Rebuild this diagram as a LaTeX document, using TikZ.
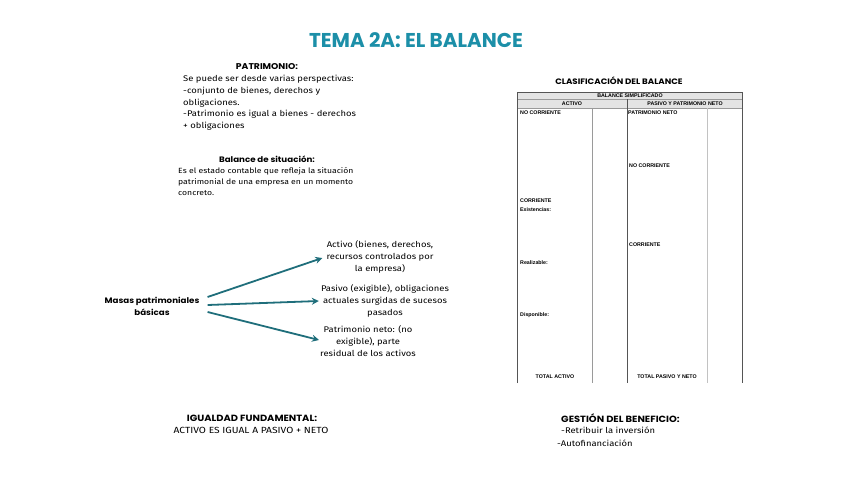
\documentclass[tikz,border=0pt]{standalone}
\usepackage{fontspec}
\setmainfont[FakeStretch=1.15]{Fira Sans}
\newfontfamily\headfont[FakeStretch=1.1]{Poppins}
\newfontfamily\titlefont{Poppins}
\newfontfamily\tabfont{Liberation Sans}
\usetikzlibrary{arrows.meta,calc}
\definecolor{titleteal}{HTML}{1C8FA8}
\definecolor{arrowteal}{HTML}{1F6E7B}
\definecolor{tabline}{HTML}{555555}
\definecolor{tabinner}{HTML}{9A9A9A}
\definecolor{tabhead}{HTML}{E4E4E4}
\tikzset{
  body/.style={font=\fontsize{8.2}{11.8}\selectfont, inner sep=0pt},
  headb/.style={font=\headfont\bfseries\fontsize{7.9}{11.8}\selectfont, inner sep=0pt},
  tabtxt/.style={font=\tabfont\bfseries\fontsize{5.3}{6}\selectfont, inner sep=0pt},
  conn/.style={draw=arrowteal, line width=1.8pt, -{Stealth[length=7pt,width=7pt]}},
}
\begin{document}
\begin{tikzpicture}[x=1pt,y=-1pt]
\useasboundingbox (0,0) rectangle (848,477);
% title
\node[font=\titlefont\bfseries\fontsize{20}{22}\selectfont, text=titleteal, inner sep=0pt] (title) at (416,40) {TEMA 2A: EL BALANCE};
% patrimonio
\node[headb, font=\headfont\bfseries\fontsize{8.4}{11.8}\selectfont] (pathead) at (267,67) {PATRIMONIO:};
\node[body, anchor=north west, align=left] (patbody) at (183,75) {Se puede ser desde varias perspectivas:\\-conjunto de bienes, derechos y\\obligaciones.\\-Patrimonio es igual a bienes - derechos\\+ obligaciones};
% balance de situacion
\node[headb] (balhead) at (267,159) {Balance de situación:};
\node[body, font=\fontsize{7.5}{11.3}\selectfont, anchor=north west, align=left] (balbody) at (178,167) {Es el estado contable que refleja la situación\\patrimonial de una empresa en un momento\\concreto.};
% masas
\node[headb, align=center] (masas) at (152,306) {Masas patrimoniales\\básicas};
\node[body, align=center] (activo) at (380,257) {Activo (bienes, derechos,\\recursos controlados por\\la empresa)};
\node[body, align=center] (pasivo) at (385,301) {Pasivo (exigible), obligaciones\\actuales surgidas de sucesos\\pasados};
\node[body, align=center] (neto) at (368,341) {Patrimonio neto: (no\\exigible), parte\\residual de los activos};
\coordinate (s1) at ([shift={(8,-9)}]masas.east);
\coordinate (s2) at ([shift={(8,-1)}]masas.east);
\coordinate (s3) at ([shift={(8,6)}]masas.east);
\draw[conn] (s1) -- ([shift={(-4,1)}]activo.west);
\draw[conn] (s2) -- ([shift={(-2,0)}]pasivo.west);
\draw[conn] (s3) -- ([shift={(-1,-1)}]neto.west);
% igualdad
\node[headb, font=\headfont\bfseries\fontsize{9}{11.8}\selectfont] (ighead) at (252,418) {IGUALDAD FUNDAMENTAL:};
\node[body, font=\fontsize{8.9}{11.8}\selectfont] (igbody) at (251,430) {ACTIVO ES IGUAL A PASIVO + NETO};
% gestion
\node[headb, font=\headfont\bfseries\fontsize{9}{11.8}\selectfont, anchor=west] (gehead) at (561,418) {GESTIÓN DEL BENEFICIO:};
\node[body, anchor=west] (ge1) at (561,430) {-Retribuir la inversión};
\node[body, anchor=west] (ge2) at (557,443) {-Autofinanciación};
% clasificacion
\node[headb] (clhead) at (619,81) {CLASIFICACIÓN DEL BALANCE};
% table
\fill[tabhead] (517,92) rectangle (742,108);
\draw[tabinner, line width=0.6pt] (517,99) -- (742,99);
\draw[tabinner, line width=0.6pt] (517,108) -- (742,108);
\draw[tabinner, line width=0.6pt] (592,108) -- (592,383);
\draw[tabinner!60, line width=0.6pt] (707,108) -- (707,383);
\draw[tabline, line width=0.9pt] (627,99) -- (627,383);
\draw[tabline, line width=0.9pt] (517,383) -- (517,92) -- (742,92) -- (742,383);
\node[tabtxt] (tbs) at (630,95.5) {BALANCE SIMPLIFICADO};
\node[tabtxt] (tact) at (572,103.5) {ACTIVO};
\node[tabtxt] (tpas) at (685,103.5) {PASIVO Y PATRIMONIO NETO};
\node[tabtxt, anchor=west] (t1) at (520,113) {NO CORRIENTE};
\node[tabtxt, anchor=west] (t2) at (628,113) {PATRIMONIO NETO};
\node[tabtxt, anchor=west] (t3) at (629,166) {NO CORRIENTE};
\node[tabtxt, anchor=west] (t4) at (520,201) {CORRIENTE};
\node[tabtxt, anchor=west] (t5) at (520,210) {Existencias:};
\node[tabtxt, anchor=west] (t6) at (629,245) {CORRIENTE};
\node[tabtxt, anchor=west] (t7) at (520,263) {Realizable:};
\node[tabtxt, anchor=west] (t8) at (520,315) {Disponible:};
\node[tabtxt] (t9) at (555,377) {TOTAL ACTIVO};
\node[tabtxt] (t10) at (667,377) {TOTAL PASIVO Y NETO};
\end{tikzpicture}
\end{document}
